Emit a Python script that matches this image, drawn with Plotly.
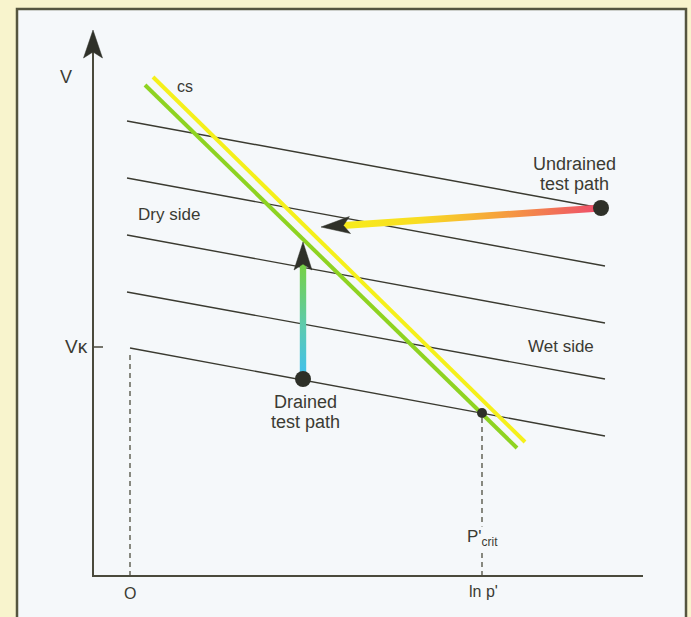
import numpy as np
import plotly.graph_objects as go

# ---------------- data (ln p' on x, specific volume v on y; arbitrary units) ----------------
kappa_x_start = [3.4, 3.4, 3.4, 3.4, 3.7]
kappa_x_end = [50.8, 51.2, 51.2, 51.2, 51.2]
kappa_v_start = [45.5, 39.8, 34.1, 28.4, 22.8]
kappa_v_end = [36.8, 31.0, 25.3, 19.7, 14.0]

csl_yellow_x = [6.0, 43.2]
csl_yellow_v = [49.9, 13.4]
csl_green_x = [5.2, 42.4]
csl_green_v = [49.1, 12.8]

undrained_x = [50.8, 22.8]   # start (dot) -> arrow tip
undrained_v = [36.8, 34.9]
drained_x = [21.0, 21.0]
drained_v = [19.7, 33.4]

crit_x = 38.9
crit_v = 16.3
v_kappa = 22.9
v_kappa_x = 3.7

axis_x_end = 55.0
axis_v_top = 54.6

# ---------------- style ----------------
INK = "#3a3a30"
TXT = "#3b3b33"
PANEL = "#f5f8fa"
OUTER = "#f8f4cd"
FONT = "Liberation Sans, Arial, Helvetica, sans-serif"

fig = go.Figure()


def dart(tip_x, tip_y, from_x, from_y, length=2.8, half=0.9, notch=0.65):
    d = np.array([tip_x - from_x, tip_y - from_y], float)
    d /= np.linalg.norm(d)
    n = np.array([-d[1], d[0]])
    t = np.array([tip_x, tip_y])
    pts = [t, t - length * d + half * n, t - (length - notch) * d, t - length * d - half * n, t]
    return [p[0] for p in pts], [p[1] for p in pts], t - (length - notch) * d


# kappa (swelling) lines
for xs, xe, vs, ve in zip(kappa_x_start, kappa_x_end, kappa_v_start, kappa_v_end):
    fig.add_trace(go.Scatter(x=[xs, xe], y=[vs, ve], mode="lines",
                             line=dict(color=INK, width=1.4), hoverinfo="skip"))

# dashed guides
fig.add_trace(go.Scatter(x=[v_kappa_x, v_kappa_x], y=[0, v_kappa - 0.8], mode="lines",
                         line=dict(color="#5a5a4c", width=1.4, dash="5px,4px"), hoverinfo="skip"))
fig.add_trace(go.Scatter(x=[crit_x, crit_x], y=[0, crit_v - 0.5], mode="lines",
                         line=dict(color="#5a5a4c", width=1.4, dash="5px,4px"), hoverinfo="skip"))

# critical state lines
fig.add_trace(go.Scatter(x=csl_green_x, y=csl_green_v, mode="lines",
                         line=dict(color="#8ed321", width=4), hoverinfo="skip"))
fig.add_trace(go.Scatter(x=csl_yellow_x, y=csl_yellow_v, mode="lines",
                         line=dict(color="#f5f01a", width=4), hoverinfo="skip"))

# axes
ax_x, ax_y, ax_back = dart(0, axis_v_top, 0, 0, length=2.8, half=0.95, notch=0.6)
fig.add_trace(go.Scatter(x=[axis_x_end, 0, 0], y=[0, 0, ax_back[1]], mode="lines",
                         line=dict(color="#4a4a3c", width=2), hoverinfo="skip"))
fig.add_trace(go.Scatter(x=ax_x, y=ax_y, mode="lines", fill="toself", fillcolor="#2f3129",
                         line=dict(color="#2f3129", width=0.5), hoverinfo="skip"))
fig.add_trace(go.Scatter(x=[0, 1.0], y=[v_kappa, v_kappa], mode="lines",
                         line=dict(color="#4a4a3c", width=1.5), hoverinfo="skip"))

# undrained path (horizontal gradient band)
ux, uy, ub = dart(undrained_x[1], undrained_v[1], undrained_x[0], undrained_v[0],
                  length=2.9, half=0.85, notch=0.65)
hw = 0.34
band_x = [ub[0], undrained_x[0], undrained_x[0], ub[0], ub[0]]
band_y = [ub[1] + hw, undrained_v[0] + hw, undrained_v[0] - hw, ub[1] - hw, ub[1] + hw]
fig.add_trace(go.Scatter(x=band_x, y=band_y, mode="lines", fill="toself",
                         line=dict(width=0, color="rgba(0,0,0,0)"),
                         fillgradient=dict(type="horizontal",
                                           colorscale=[[0, "#f7ec1c"], [0.3, "#f8dc22"],
                                                       [0.6, "#f6a23c"], [1, "#ee4b6c"]]),
                         hoverinfo="skip"))
fig.add_trace(go.Scatter(x=ux, y=uy, mode="lines", fill="toself", fillcolor="#2f3129",
                         line=dict(color="#2f3129", width=0.5), hoverinfo="skip"))

# drained path (vertical gradient band)
dx, dy, db = dart(drained_x[1], drained_v[1], drained_x[0], drained_v[0],
                  length=2.8, half=0.9, notch=0.6)
hw = 0.32
band_x = [drained_x[0] - hw, drained_x[0] + hw, drained_x[0] + hw, drained_x[0] - hw, drained_x[0] - hw]
band_y = [drained_v[0], drained_v[0], db[1], db[1], drained_v[0]]
fig.add_trace(go.Scatter(x=band_x, y=band_y, mode="lines", fill="toself",
                         line=dict(width=0, color="rgba(0,0,0,0)"),
                         fillgradient=dict(type="vertical",
                                           colorscale=[[0, "#3ec0f2"], [0.45, "#5ccab0"],
                                                       [1, "#76d142"]]),
                         hoverinfo="skip"))
fig.add_trace(go.Scatter(x=dx, y=dy, mode="lines", fill="toself", fillcolor="#2f3129",
                         line=dict(color="#2f3129", width=0.5), hoverinfo="skip"))

# points
fig.add_trace(go.Scatter(x=[undrained_x[0], drained_x[0]], y=[undrained_v[0], drained_v[0]],
                         mode="markers", marker=dict(size=16, color="#2e3028"), hoverinfo="skip"))
fig.add_trace(go.Scatter(x=[crit_x], y=[crit_v], mode="markers",
                         marker=dict(size=10, color="#2e3028"), hoverinfo="skip"))


def label(x, y, text, size=18, xanchor="center", bg=None):
    fig.add_annotation(x=x, y=y, xref="x", yref="y", text=text, showarrow=False,
                       xanchor=xanchor, yanchor="middle",
                       font=dict(family=FONT, size=size, color=TXT),
                       bgcolor=bg, borderpad=0)


label(-2.7, 49.9, "V", 18)
label(-0.4, 23.0, "Vκ", 19, xanchor="right")
label(3.7, -1.7, "O", 16)
label(39.0, -1.5, "ln p'", 16)
label(38.9, 3.8, "P'<sub>crit</sub>", 17, bg=PANEL)
label(9.2, 49.0, "cs", 16)
label(48.1, 41.2, "Undrained", 18)
label(48.1, 39.2, "test path", 18)
label(7.6, 36.2, "Dry side", 17)
label(46.8, 23.0, "Wet side", 17)
label(21.2, 17.4, "Drained", 18)
label(21.2, 15.4, "test path", 18)

# panel
fig.add_shape(type="rect", xref="x", yref="y", x0=-7.6, x1=59.3, y0=-6.0, y1=56.7,
              fillcolor=PANEL, line=dict(color="#55553f", width=2.5), layer="below")

fig.update_layout(
    width=691, height=617,
    margin=dict(l=0, r=0, t=0, b=0),
    paper_bgcolor=OUTER, plot_bgcolor=OUTER,
    showlegend=False,
    xaxis=dict(range=[-9.3, 59.8], visible=False, fixedrange=True),
    yaxis=dict(range=[-4.1, 57.6], visible=False, fixedrange=True),
)

fig.write_html("out.html", config={"displayModeBar": False},
               post_script="document.body.style.margin='0';document.body.style.overflow='hidden';")
